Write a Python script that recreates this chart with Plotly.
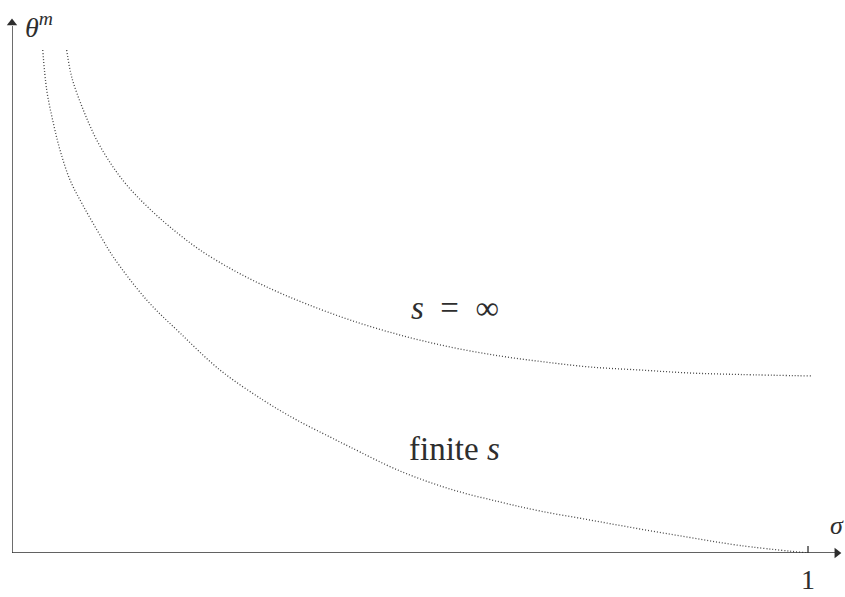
import plotly.graph_objects as go

# Upper curve: s = infinity
sigma_inf = [0.0687, 0.0750, 0.0896, 0.1064, 0.1253, 0.1441, 0.1692, 0.1985, 0.2362, 0.2823,
             0.3283, 0.3702, 0.4246, 0.4874, 0.5503, 0.6131, 0.6696, 0.7261, 0.7889, 0.8518,
             0.9146, 1.0063]
theta_inf = [5.03, 4.76, 4.43, 4.13, 3.88, 3.68, 3.47, 3.26, 3.03, 2.81,
             2.63, 2.49, 2.33, 2.18, 2.06, 1.97, 1.91, 1.86, 1.83, 1.80,
             1.785, 1.77]

# Lower curve: finite s
sigma_fin = [0.0386, 0.0436, 0.0519, 0.0603, 0.0729, 0.0896, 0.1127, 0.1273, 0.1692, 0.2111,
             0.2613, 0.3153, 0.3577, 0.3995, 0.4246, 0.4874, 0.5503, 0.6131, 0.6633, 0.7261,
             0.7889, 0.8518, 0.9146, 1.0]
theta_fin = [5.03, 4.63, 4.30, 4.03, 3.73, 3.47, 3.15, 2.96, 2.53, 2.20,
             1.83, 1.53, 1.33, 1.16, 1.06, 0.82, 0.64, 0.51, 0.42, 0.33,
             0.24, 0.155, 0.075, 0.0]

x_ticks = [1]
x_tick_labels = ["1"]

X_MAX = 1.0427
Y_MAX = 5.35
FONT = "Liberation Serif, Times New Roman, DejaVu Serif, serif"
INK = "#2e2e2e"
CURVE = "#444444"

fig = go.Figure()
for xs, ys in [(sigma_inf, theta_inf), (sigma_fin, theta_fin)]:
    fig.add_trace(go.Scatter(
        x=xs, y=ys, mode="lines",
        line=dict(color=CURVE, width=1.3, dash="1px,2px", shape="spline", smoothing=1.0),
        showlegend=False, hoverinfo="skip", cliponaxis=False,
    ))

# axis lines
shapes = [
    dict(type="line", x0=0, x1=0, y0=0, y1=Y_MAX - 0.08, xref="x", yref="y",
         line=dict(color=INK, width=1.4)),
    dict(type="line", x0=0, x1=X_MAX - 0.008, y0=0, y1=0, xref="x", yref="y",
         line=dict(color=INK, width=1.4)),
]
shapes += [dict(type="line", x0=xv, x1=xv, y0=-0.07, y1=0.07, xref="x", yref="y",
                line=dict(color=INK, width=1.3)) for xv in x_ticks]

# arrowheads at the axis tips
fig.add_trace(go.Scatter(
    x=[0, X_MAX - 0.0065], y=[Y_MAX - 0.05, 0], mode="markers",
    marker=dict(symbol=["triangle-up", "triangle-right"], size=9, color=INK, line=dict(width=0)),
    showlegend=False, hoverinfo="skip", cliponaxis=False,
))

annotations = [
    dict(x=0, y=Y_MAX, xref="x", yref="y", xshift=11, yshift=12, xanchor="left", yanchor="top",
         text="<i>θ</i><sup><i>m</i></sup>", showarrow=False, font=dict(family=FONT, size=28, color=INK)),
    dict(x=X_MAX, y=0, xref="x", yref="y", xshift=-14, yshift=28, xanchor="left", yanchor="middle",
         text="<i>σ</i>", showarrow=False, font=dict(family=FONT, size=26, color=INK)),
    dict(x=0.5565, y=2.45, xref="x", yref="y", text="<i>s</i>\u2002=\u2002∞", showarrow=False,
         font=dict(family=FONT, size=33, color=INK)),
    dict(x=0.5565, y=1.04, xref="x", yref="y", text="finite <i>s</i>", showarrow=False,
         font=dict(family=FONT, size=33, color=INK)),
]
for xv, lab in zip(x_ticks, x_tick_labels):
    annotations.append(dict(x=xv, y=0, xref="x", yref="y", yshift=-26, text=lab, showarrow=False,
                            font=dict(family=FONT, size=28, color=INK)))

fig.update_layout(
    width=845, height=597,
    margin=dict(l=12, r=3, t=18, b=44),
    paper_bgcolor="white", plot_bgcolor="white",
    xaxis=dict(range=[0, X_MAX], visible=False, fixedrange=True),
    yaxis=dict(range=[0, Y_MAX], visible=False, fixedrange=True),
    annotations=annotations, shapes=shapes,
)

fig.write_html("out.html")
